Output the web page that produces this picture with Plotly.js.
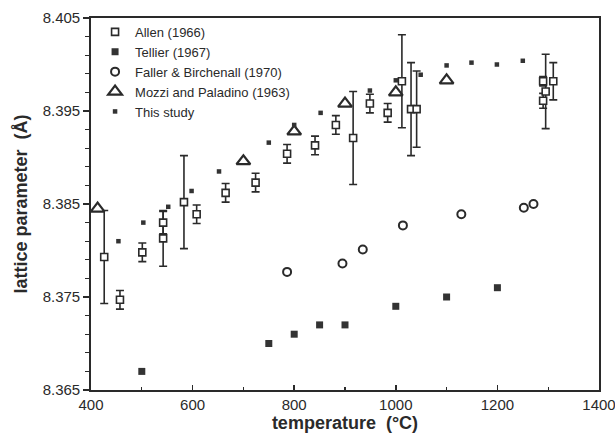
<!DOCTYPE html>
<html>
<head>
<meta charset="utf-8">
<script src="https://cdn.plot.ly/plotly-3.0.1.min.js"></script>
<style>html,body{margin:0;padding:0;background:#fff;}#chart{width:615px;height:434px;}</style>
</head>
<body>
<div id="chart"></div>
<script>
// Allen (1966) – open squares with error bars
const allenT   = [426, 457, 501, 542, 542, 583, 608, 665, 724, 786, 841, 882, 916, 949, 984, 1012, 1030, 1041, 1295, 1290, 1310, 1290];
const allenA   = [8.3793, 8.3747, 8.3798, 8.3830, 8.3813, 8.3852, 8.3839, 8.3862, 8.3873, 8.3904, 8.3913, 8.3935, 8.3921, 8.3958, 8.3948, 8.3982, 8.3952, 8.3952, 8.3971, 8.3982, 8.3982, 8.3961];
const allenErr = [0.005, 0.001, 0.001, 0.0012, 0.003, 0.005, 0.001, 0.001, 0.001, 0.001, 0.001, 0.001, 0.005, 0.001, 0.001, 0.005, 0.005, 0.0041, 0.004, 0.0005, 0.002, 0.0008];
// Tellier (1967) – filled squares
const tellierT = [500, 750, 800, 850, 900, 1000, 1100, 1200];
const tellierA = [8.367, 8.370, 8.371, 8.372, 8.372, 8.374, 8.375, 8.376];
// Faller & Birchenall (1970) – open circles
const fallerT = [786, 895, 935, 1014, 1129, 1252, 1271];
const fallerA = [8.3777, 8.3786, 8.3801, 8.3827, 8.3839, 8.3846, 8.3850];
// Mozzi and Paladino (1963) – open triangles
const mozziT = [413, 700, 800, 900, 1000, 1100];
const mozziA = [8.3845, 8.3896, 8.3928, 8.3958, 8.3970, 8.3983];
// This study – small filled squares
const studyT = [454, 503, 552, 598, 652, 750, 800, 852, 949, 1000, 1049, 1100, 1149, 1199, 1250];
const studyA = [8.3810, 8.3830, 8.3847, 8.3864, 8.3885, 8.3916, 8.3935, 8.3948, 8.3972, 8.3983, 8.3989, 8.3999, 8.4002, 8.4000, 8.4004];
// Tick labels
const xTicks = [400, 600, 800, 1000, 1200, 1400];
const yTicks = [8.365, 8.375, 8.385, 8.395, 8.405];
const yTickText = ['8.365', '8.375', '8.385', '8.395', '8.405'];

const ink = '#2a2a2a';
const FONT = 'Liberation Sans, Arial, Helvetica, sans-serif';

const traces = [
  {x: allenT, y: allenA, name: 'Allen (1966)', type: 'scatter', mode: 'markers',
   error_y: {type: 'data', array: allenErr, visible: true, color: ink, thickness: 1.6, width: 4},
   marker: {symbol: 'square', size: 7, color: '#fff', line: {color: ink, width: 1.6}}},
  {x: tellierT, y: tellierA, name: 'Tellier (1967)', type: 'scatter', mode: 'markers',
   marker: {symbol: 'square', size: 7, color: '#333', line: {width: 0}}},
  {x: fallerT, y: fallerA, name: 'Faller & Birchenall (1970)', type: 'scatter', mode: 'markers',
   marker: {symbol: 'circle', size: 8, color: '#fff', line: {color: ink, width: 2}}},
  {x: mozziT, y: mozziA, name: 'Mozzi and Paladino (1963)', type: 'scatter', mode: 'markers',
   marker: {symbol: 'triangle-up', size: 12, color: '#fff', line: {color: ink, width: 2.2}}},
  {x: studyT, y: studyA, name: 'This study', type: 'scatter', mode: 'markers',
   marker: {symbol: 'square', size: 4.5, color: '#333', line: {width: 0}}}
];

const layout = {
  width: 615, height: 434,
  margin: {l: 91, r: 16, t: 18, b: 44, pad: 0},
  paper_bgcolor: '#fff', plot_bgcolor: '#fff',
  font: {family: FONT, color: ink, size: 15},
  showlegend: true,
  legend: {x: 0.008, y: 1.003, xanchor: 'left', yanchor: 'top', bgcolor: 'rgba(0,0,0,0)',
           borderwidth: 0, font: {family: FONT, size: 13, color: ink}},
  xaxis: {
    range: [400, 1400], tickmode: 'array', tickvals: xTicks, ticks: 'inside', ticklen: 5, tickwidth: 1.5, tickcolor: ink,
    ticklabeloverflow: 'allow',
    minor: {dtick: 100, tick0: 400, ticks: 'inside', ticklen: 3, tickwidth: 1.2, tickcolor: ink, showgrid: false},
    showgrid: false, zeroline: false, showline: true, linecolor: ink, linewidth: 1.8, mirror: true,
    tickfont: {family: FONT, size: 15, color: ink},
    title: {text: 'temperature  (°C)', font: {family: FONT, size: 18, color: ink, weight: 'bold'}, standoff: 2}
  },
  yaxis: {
    range: [8.365, 8.405], tickmode: 'array', tickvals: yTicks, ticktext: yTickText,
    ticks: 'outside', ticklen: 6, tickwidth: 1.5, tickcolor: ink, ticklabeloverflow: 'allow',
    minor: {dtick: 0.002, tick0: 8.365, ticks: 'outside', ticklen: 4, tickwidth: 1.2, tickcolor: ink, showgrid: false},
    showgrid: false, zeroline: false, showline: true, linecolor: ink, linewidth: 1.8, mirror: true,
    tickfont: {family: FONT, size: 15, color: ink},
    title: {text: 'lattice parameter  (Å)', font: {family: FONT, size: 18, color: ink, weight: 'bold'}, standoff: 10}
  }
};

Plotly.newPlot('chart', traces, layout, {displayModeBar: false, staticPlot: true});
</script>
</body>
</html>
